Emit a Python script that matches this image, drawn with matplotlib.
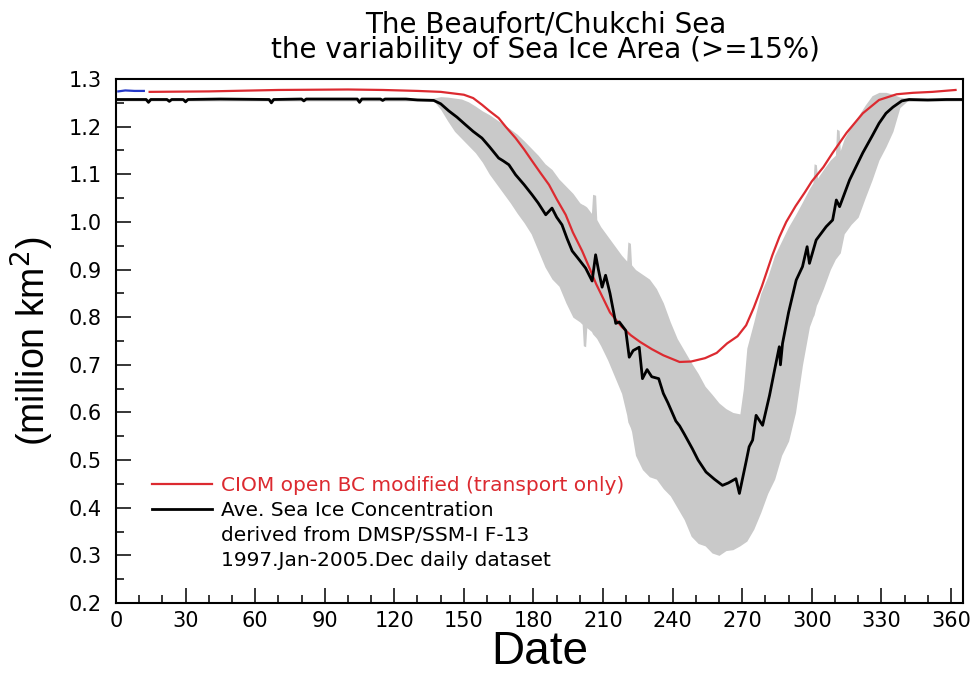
import numpy as np
import matplotlib

matplotlib.use("Agg")
import matplotlib.pyplot as plt
from matplotlib.lines import Line2D
from matplotlib.ticker import MultipleLocator, FormatStrFormatter

# CIOM modelled ice area (open BC modified, transport only), million km^2
model_day = [14.5, 40, 70, 100, 115, 130, 140, 150, 154, 157.8, 161, 165, 168,
             172.3, 176, 179.4, 183, 186.7, 190, 193.9, 197, 201, 204, 207, 210,
             213, 218, 222, 226, 231, 236, 243, 248, 254, 259, 263.5, 268, 271.7,
             275, 278.5, 283, 286, 289, 293, 297, 300, 305, 309, 315, 322,
             329, 336.6, 343.6, 352, 362]
model_area = [1.273, 1.274, 1.277, 1.278, 1.277, 1.275, 1.273, 1.267, 1.260,
              1.246, 1.233, 1.218, 1.200, 1.176, 1.152, 1.128, 1.103, 1.078,
              1.048, 1.015, 0.978, 0.939, 0.905, 0.870, 0.840, 0.810, 0.780,
              0.762, 0.748, 0.733, 0.720, 0.706, 0.707, 0.714, 0.725, 0.745,
              0.760, 0.783, 0.820, 0.865, 0.930, 0.968, 1.000, 1.033, 1.062,
              1.085, 1.115, 1.145, 1.187, 1.228, 1.256, 1.268, 1.271, 1.273,
              1.277]

# short spin-up segment of the first model run
spinup_day = [1, 4, 8, 12]
spinup_area = [1.274, 1.276, 1.275, 1.275]

# 1997-2005 daily climatology from DMSP/SSM-I F-13
obs_day = [0, 13, 14, 15, 22, 23, 24, 29, 30, 31, 45, 66, 67, 68, 80, 81, 82,
           104, 105, 106, 114, 115, 116, 125, 130, 137, 140, 143.5, 147, 150.7,
           154, 157.8, 161, 165, 167, 169.4, 172.3, 176, 179.4, 182, 185.3, 188,
           190, 192.3, 194.5, 196.7, 199, 202.5, 205.3, 206.8, 208, 209.6, 211.1,
           213, 215.5, 217, 219.8, 221.3, 223, 225.6, 227, 229, 231, 234, 236,
           238, 241.4, 243, 245, 248.5, 251, 254.4, 258, 261.5, 264, 267.3,
           268.8, 271.7, 273, 274.5, 276, 278.8, 281.8, 284, 286, 286.5, 287.4,
           290, 293.3, 296, 298, 299, 301.9, 306.2, 309, 310.6, 312, 316.3, 322,
           326, 329, 332, 335, 338.8, 342, 350, 358, 365]
obs_area = [1.257, 1.257, 1.251, 1.257, 1.257, 1.253, 1.257, 1.257, 1.252,
            1.257, 1.258, 1.257, 1.250, 1.257, 1.258, 1.254, 1.258, 1.258,
            1.251, 1.258, 1.258, 1.255, 1.258, 1.258, 1.256, 1.255, 1.248,
            1.233, 1.220, 1.204, 1.190, 1.176, 1.158, 1.134, 1.128, 1.120,
            1.099, 1.078, 1.057, 1.040, 1.015, 1.029, 1.010, 0.994, 0.965,
            0.939, 0.925, 0.903, 0.876, 0.931, 0.900, 0.863, 0.888, 0.850,
            0.787, 0.790, 0.772, 0.716, 0.730, 0.737, 0.671, 0.690, 0.675,
            0.671, 0.640, 0.620, 0.582, 0.572, 0.555, 0.524, 0.500, 0.475,
            0.460, 0.447, 0.452, 0.461, 0.430, 0.497, 0.528, 0.542, 0.594,
            0.573, 0.636, 0.690, 0.738, 0.700, 0.745, 0.810, 0.878, 0.906,
            0.948, 0.913, 0.962, 0.990, 1.004, 1.046, 1.032, 1.088, 1.145,
            1.180, 1.207, 1.228, 1.241, 1.254, 1.257, 1.256, 1.257, 1.257]

# daily min / max over the 9 years
range_day = [0, 137, 140, 143, 146, 149, 152, 155, 158, 161, 164, 167, 170, 173,
             176, 179, 182, 185, 188, 191, 194, 197, 200, 201, 201.5, 202.5,
             203, 205, 205.5, 206.8, 207.3, 209, 212, 215, 218, 220.2, 220.7,
             221.8, 222.3, 224, 227, 230, 233, 236, 239, 242, 245, 248, 251,
             254, 257, 260, 263, 266, 269, 270.5, 272, 275, 278, 281, 284, 287,
             290, 293, 296, 299, 300.5, 301, 302, 302.5, 305, 308, 310.2,
             310.7, 311.8, 312.3, 314, 317, 320, 323, 326, 329, 332, 335, 338,
             341, 365]
range_min = [1.254, 1.254, 1.236, 1.212, 1.190, 1.175, 1.160, 1.145, 1.125,
             1.100, 1.080, 1.060, 1.040, 1.018, 0.998, 0.975, 0.940, 0.905,
             0.880, 0.865, 0.830, 0.800, 0.790, 0.785, 0.740, 0.738, 0.778,
             0.770, 0.765, 0.758, 0.755, 0.740, 0.710, 0.675, 0.640, 0.595,
             0.580, 0.568, 0.560, 0.510, 0.480, 0.465, 0.460, 0.440, 0.425,
             0.400, 0.375, 0.340, 0.325, 0.320, 0.305, 0.300, 0.310, 0.312,
             0.320, 0.325, 0.330, 0.355, 0.390, 0.430, 0.460, 0.510, 0.540,
             0.600, 0.700, 0.780, 0.800, 0.805, 0.825, 0.830, 0.860, 0.900,
             0.922, 0.925, 0.932, 0.935, 0.975, 0.995, 1.010, 1.050, 1.088,
             1.130, 1.158, 1.190, 1.240, 1.253, 1.254]
range_max = [1.259, 1.260, 1.263, 1.262, 1.260, 1.258, 1.252, 1.243, 1.233,
             1.225, 1.215, 1.205, 1.195, 1.184, 1.170, 1.155, 1.140, 1.122,
             1.110, 1.090, 1.075, 1.060, 1.040, 1.037, 1.036, 1.033, 1.031,
             1.018, 1.058, 1.056, 1.005, 0.990, 0.970, 0.950, 0.930, 0.918,
             0.958, 0.955, 0.910, 0.900, 0.890, 0.880, 0.860, 0.830, 0.790,
             0.755, 0.730, 0.705, 0.682, 0.655, 0.638, 0.620, 0.608, 0.600,
             0.597, 0.650, 0.735, 0.790, 0.850, 0.885, 0.930, 0.960, 0.990,
             1.015, 1.042, 1.070, 1.082, 1.122, 1.120, 1.092, 1.110, 1.130,
             1.140, 1.195, 1.192, 1.150, 1.175, 1.200, 1.222, 1.245, 1.265,
             1.272, 1.272, 1.268, 1.262, 1.260, 1.259]

legend_labels = [
    "CIOM open BC modified (transport only)",
    "Ave. Sea Ice Concentration",
    "derived from DMSP/SSM-I F-13",
    "1997.Jan-2005.Dec daily dataset",
]

RED = "#dc2a30"
BLUE = "#2438c8"
GREY = "#c9c9c9"


def main():
    plt.rcParams.update(
        {
            "font.family": "DejaVu Sans",
            "xtick.direction": "in",
            "ytick.direction": "in",
            "xtick.labelsize": 15,
            "ytick.labelsize": 15,
            "axes.linewidth": 1.5,
        }
    )

    fig = plt.figure(figsize=(9.74, 6.73), dpi=100)
    ax = fig.add_axes([0.1191, 0.104, 0.8691, 0.7786])

    ax.fill_between(range_day, range_min, range_max, color=GREY, linewidth=0)
    ax.plot(model_day, model_area, color=RED, lw=1.6)
    ax.plot(spinup_day, spinup_area, color=BLUE, lw=1.6)
    ax.plot(obs_day, obs_area, color="black", lw=2.0)

    ax.set_xlim(0, 365)
    ax.set_ylim(0.2, 1.3)
    ax.xaxis.set_major_locator(MultipleLocator(30))
    ax.xaxis.set_minor_locator(MultipleLocator(10))
    ax.yaxis.set_major_locator(MultipleLocator(0.1))
    ax.yaxis.set_minor_locator(MultipleLocator(0.05))
    ax.yaxis.set_major_formatter(FormatStrFormatter("%.1f"))
    ax.tick_params(which="major", length=11, width=1.1)
    ax.tick_params(which="minor", length=5.5, width=1.1)
    ax.tick_params(axis="y", pad=10.5)
    ax.tick_params(axis="x", pad=6)

    ax.set_xlabel("Date", fontsize=33, family="Liberation Sans", labelpad=-1)
    ax.set_ylabel(r"(million km$^2$)", fontsize=27, family="Liberation Sans",
                  labelpad=9)

    fig.text(0.56, 0.952, "The Beaufort/Chukchi Sea", fontsize=20,
             ha="center", va="baseline")
    fig.text(0.56, 0.914, "the variability of Sea Ice Area (>=15%)",
             fontsize=20, ha="center", va="baseline")

    handles = [
        Line2D([], [], color=RED, lw=1.6),
        Line2D([], [], color="black", lw=2.0),
        Line2D([], [], color="none"),
        Line2D([], [], color="none"),
    ]
    leg = ax.legend(handles, legend_labels, loc="upper left",
                    bbox_to_anchor=(0.0425, 0.243), frameon=False,
                    fontsize=14.5, handlelength=3.0, handletextpad=0.45,
                    labelspacing=0.3, borderpad=0, borderaxespad=0)
    leg.get_texts()[0].set_color(RED)

    fig.savefig("out.png", dpi=100)


if __name__ == "__main__":
    main()
